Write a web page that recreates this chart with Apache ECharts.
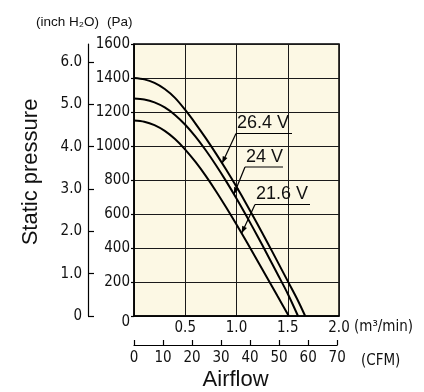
<!DOCTYPE html>
<html><head><meta charset="utf-8">
<script src="https://cdn.jsdelivr.net/npm/echarts@6/dist/echarts.min.js"></script>
<style>html,body{margin:0;padding:0;background:#fff}#c{width:424px;height:392px}</style>
</head><body><div id="c"></div>
<script>
// ---- data (airflow m³/min, static pressure Pa) ----
const flow264 = [0,0.1,0.2,0.3,0.4,0.5,0.6,0.7,0.8,0.9,1.0,1.1,1.2,1.3,1.4,1.5,1.6,1.67];
const pres264 = [1400,1392,1371,1335,1283,1212,1132,1046,955,860,760,655,546,434,320,205,90,0];
const flow240 = [0,0.1,0.2,0.3,0.4,0.5,0.6,0.7,0.8,0.9,1.0,1.1,1.2,1.3,1.4,1.5,1.6];
const pres240 = [1280,1274,1257,1227,1183,1125,1055,975,887,792,691,585,475,362,247,131,0];
const flow216 = [0,0.1,0.2,0.3,0.4,0.5,0.6,0.7,0.8,0.9,1.0,1.1,1.2,1.3,1.4,1.51];
const pres216 = [1150,1143,1123,1089,1041,979,906,824,734,638,538,435,330,224,117,0];
const curveNames = ['26.4 V','24 V','21.6 V'];
const inchTicks = [0,1,2,3,4,5,6];
const PA_PER_INH2O = 249.089;
const CFM_PER_M3MIN = 35.3147;
const FLOW_MAX = 2.0, PA_MAX = 1600, CFM_LAST = 70;

// ---- layout ----
const G = {left:134, top:44, width:205, height:272};
const NUM_FONT = "'Liberation Sans Narrow','DejaVu Sans Condensed',sans-serif";
const TXT_FONT = "'Liberation Sans',Arial,sans-serif";
const NUM_SIZE = 15;
const INK = '#111';

const chart = echarts.init(document.getElementById('c'), null, {renderer:'canvas'});
const toPairs = (xs, ys) => xs.map((x,i)=>[x, ys[i]]);
const lineSeries = (name, xs, ys) => ({
  type:'line', name, data: toPairs(xs, ys), xAxisIndex:0, yAxisIndex:0,
  smooth:0.3, symbol:'none', silent:true,
  lineStyle:{color:'#000', width:2}
});
const cfmMax = FLOW_MAX * CFM_PER_M3MIN;

chart.setOption({
  animation:false,
  grid:[
    {left:G.left, top:G.top, width:G.width, height:G.height, show:true,
     backgroundColor:'#FCF8E4', borderColor:'#000', borderWidth:1.5},
    {left:G.left, top:G.top+G.height+24, width:G.width*CFM_LAST/cfmMax, height:9, show:false}
  ],
  xAxis:[
    {type:'value', gridIndex:0, min:0, max:FLOW_MAX, interval:0.5,
     axisLine:{lineStyle:{color:'#000', width:1.5}}, axisTick:{show:false},
     splitLine:{show:true, lineStyle:{color:'#1a1a1a', width:1}},
     axisLabel:{margin:5, color:INK, fontSize:NUM_SIZE, fontFamily:NUM_FONT,
       formatter:v => v===0 ? '' : v.toFixed(1)}},
    {type:'value', gridIndex:1, min:0, max:CFM_LAST, interval:10, position:'bottom',
     axisLine:{lineStyle:{color:'#000', width:1.2}},
     axisTick:{inside:true, length:5, lineStyle:{color:'#000', width:1.2}},
     splitLine:{show:false},
     axisLabel:{margin:6, color:INK, fontSize:NUM_SIZE, fontFamily:NUM_FONT},
     name:'Airflow', nameLocation:'middle', nameGap:24,
     nameTextStyle:{fontSize:22, fontFamily:TXT_FONT, color:INK}}
  ],
  yAxis:[
    {type:'value', gridIndex:0, min:0, max:PA_MAX, interval:200,
     axisLine:{show:true, lineStyle:{color:'#000', width:1.5}},
     axisTick:{show:true, length:3, lineStyle:{color:'#000', width:1.2}},
     splitLine:{show:true, lineStyle:{color:'#1a1a1a', width:1}},
     axisLabel:{margin:4, color:INK, fontSize:NUM_SIZE, fontFamily:NUM_FONT,
       formatter:v => v===0 ? '{z|0}' : String(v),
       rich:{z:{fontSize:NUM_SIZE, fontFamily:NUM_FONT, color:INK, padding:[13,0,0,0]}}}},
    {type:'value', gridIndex:0, min:0, max:PA_MAX/PA_PER_INH2O, interval:1,
     position:'left', offset:46,
     axisLine:{show:true, lineStyle:{color:'#000', width:1.2}},
     axisTick:{show:true, inside:true, length:6, customValues:inchTicks,
       lineStyle:{color:'#000', width:1.2}},
     splitLine:{show:false},
     axisLabel:{margin:6, color:INK, fontSize:NUM_SIZE, fontFamily:NUM_FONT,
       customValues:inchTicks,
       formatter:v => v===0 ? '0' : (Number.isInteger(v) ? v.toFixed(1) : '')}},
    {type:'value', gridIndex:1, min:0, max:1, show:false}
  ],
  series:[
    lineSeries(curveNames[0], flow264, pres264),
    lineSeries(curveNames[1], flow240, pres240),
    lineSeries(curveNames[2], flow216, pres216)
  ]
});

// ---- annotations: label + underline + leader arrow to a point on each curve ----
function interp(xs, ys, x) {
  for (let i = 1; i < xs.length; i++) {
    if (x <= xs[i]) { const t = (x - xs[i-1])/(xs[i]-xs[i-1]); return ys[i-1] + t*(ys[i]-ys[i-1]); }
  }
  return ys[ys.length-1];
}
const ann = [
  {s:0, xs:flow264, ys:pres264, at:0.86,  x:236, y:133.5, len:56},
  {s:1, xs:flow240, ys:pres240, at:0.975, x:245, y:167,   len:38},
  {s:2, xs:flow216, ys:pres216, at:1.05,  x:255, y:204.5, len:55}
];
const graphics = [];
ann.forEach(a => {
  const tip = chart.convertToPixel({gridIndex:0}, [a.at, interp(a.xs, a.ys, a.at)]);
  graphics.push({type:'text', left:a.x+1, top:a.y-19, silent:true,
    style:{text:curveNames[a.s], font:"18px "+TXT_FONT, fill:INK}});
  graphics.push({type:'line', silent:true,
    shape:{x1:a.x, y1:a.y, x2:a.x+a.len, y2:a.y}, style:{stroke:'#000', lineWidth:1.2}});
  graphics.push({type:'line', silent:true,
    shape:{x1:a.x, y1:a.y, x2:tip[0], y2:tip[1]}, style:{stroke:'#000', lineWidth:1.2}});
  const dx = tip[0]-a.x, dy = tip[1]-a.y, L = Math.hypot(dx,dy);
  const ux = dx/L, uy = dy/L, nx = -uy, ny = ux, h = 7, w = 2.6;
  graphics.push({type:'polygon', silent:true,
    shape:{points:[[tip[0],tip[1]],
      [tip[0]-ux*h+nx*w, tip[1]-uy*h+ny*w],
      [tip[0]-ux*h-nx*w, tip[1]-uy*h-ny*w]]},
    style:{fill:'#000'}});
});
// axis unit captions and y title
const pEnd = chart.convertToPixel({gridIndex:0}, [FLOW_MAX, 0]);
graphics.push(
  {type:'text', left:36, top:15, silent:true,
   style:{text:'(inch H₂O)', font:"13.5px "+TXT_FONT, fill:INK}},
  {type:'text', left:107, top:15, silent:true,
   style:{text:'(Pa)', font:"13.5px "+TXT_FONT, fill:INK}},
  {type:'text', left:pEnd[0]+15, top:pEnd[1]+4, silent:true,
   style:{text:'(m³/min)', font:NUM_SIZE+"px "+NUM_FONT, fill:INK}},
  {type:'text', left:pEnd[0]+22, top:pEnd[1]+38, silent:true,
   style:{text:'(CFM)', font:NUM_SIZE+"px "+NUM_FONT, fill:INK}},
  {type:'text', x:31, y:172, rotation:Math.PI/2, silent:true,
   style:{text:'Static pressure', font:"22px "+TXT_FONT, fill:INK,
          align:'center', verticalAlign:'middle'}}
);
chart.setOption({graphic:graphics});
</script></body></html>
